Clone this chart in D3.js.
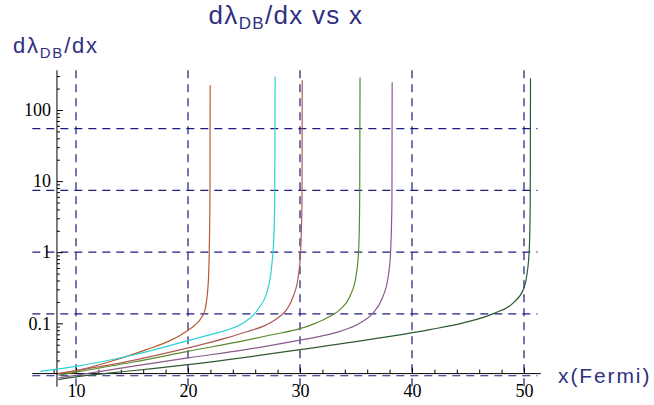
<!DOCTYPE html>
<html>
<head>
<meta charset="utf-8">
<script src="https://cdn.jsdelivr.net/npm/d3@7"></script>
<style>
  body { margin: 0; background: #fff; }
  .lab { font-family: "Liberation Sans", Arial, sans-serif; fill: #303080; }
  .tick text { font-family: "Liberation Serif", "Times New Roman", serif; font-size: 18px; fill: #000; }
</style>
</head>
<body>
<script>
// tick values and grid positions
var xTicks = [10, 20, 30, 40, 50];
var xMinor = [8, 12, 14, 16, 18, 22, 24, 26, 28, 32, 34, 36, 38, 42, 44, 46, 48];
var yTicks = [0.1, 1, 10, 100];
var yMinor = [0.02, 0.03, 0.04, 0.05, 0.06, 0.07, 0.08, 0.09,
              0.2, 0.3, 0.4, 0.5, 0.6, 0.7, 0.8, 0.9,
              2, 3, 4, 5, 6, 7, 8, 9,
              20, 30, 40, 50, 60, 70, 80, 90,
              200, 300];
var gridX = [10, 20, 30, 40, 50];
var gridY = [0.0183, 0.1353, 1, 7.389, 54.6];

// curves: [x, dλ/dx]
var curveOrange = [[8.42,0.0196],[10,0.0216],[13,0.0288],[16.3,0.0426],[18.39,0.057],[19.29,0.0675],
  [20,0.0797],[20.6,0.094],[21.07,0.112],[21.52,0.156],[21.81,0.371],[21.9,1.09],[21.96,5.52],[21.98,223]];
var curveCyan = [[6.8,0.0211],[10,0.0248],[15,0.0355],[20,0.0570],[22.26,0.071],[23.75,0.083],
  [24.94,0.1013],[25.96,0.137],[26.43,0.1735],[27.03,0.268],[27.47,0.635],[27.68,1.876],[27.74,5.53],[27.78,295]];
var curveRed = [[8.42,0.0196],[10,0.0216],[15,0.0299],[20,0.0450],[23.46,0.0623],[25.24,0.0760],
  [27.03,0.0959],[28.21,0.1255],[28.81,0.156],[29.4,0.240],[29.85,0.459],[30.06,1.09],[30.18,5.52],[30.2,262]];
var curveGreen = [[8.42,0.0187],[10,0.0206],[15,0.0283],[20,0.0403],[25.24,0.058],[27.5,0.069],
  [30,0.084],[31.19,0.0975],[32.68,0.1255],[33.57,0.156],[34.46,0.240],[35.0,0.459],[35.24,1.09],
  [35.33,5.52],[35.36,286]];
var curvePurple = [[8.42,0.0170],[10,0.0186],[15,0.0248],[20,0.0326],[25,0.0422],[30,0.058],
  [31.79,0.0656],[33.57,0.0771],[35.36,0.1013],[36.54,0.140],[37.29,0.216],[37.88,0.459],[38.1,1.09],
  [38.21,5.52],[38.23,245]];
var curveDark = [[8.42,0.0161],[10,0.0176],[15,0.0215],[20,0.0262],[30,0.0426],[37.14,0.0623],
  [41.61,0.0815],[44.58,0.1013],[47.26,0.137],[49.04,0.194],[49.94,0.298],[50.24,0.459],[50.47,1.09],
  [50.56,5.52],[50.58,279]];

var curves = [curveOrange, curveCyan, curveRed, curveGreen, curvePurple, curveDark];
var colors = ["#b85a30", "#2ad2da", "#b05a55", "#5a8a2e", "#8a5a8e", "#2e5a32"];

var w = 654, h = 405;
var svg = d3.select("body")
  .append("svg")
  .attr("width", w)
  .attr("height", h);

var x = d3.scaleLinear().domain([10, 50]).range([76, 524]);
var y = d3.scaleLog().domain([0.1, 100]).range([323.3, 110]);

// plot frame in data units
var xLo = 6.1, xHi = 51.2, yLo = 0.0128, yHi = 362;
var xAxisAt = 0.0196, yAxisAt = 8.3;

// dashed grid lines
svg.selectAll(".gx")
  .data(gridX)
  .enter()
  .append("line")
  .attr("class", "gx")
  .attr("x1", function(d){ return x(d); })
  .attr("x2", function(d){ return x(d); })
  .attr("y1", y(yHi))
  .attr("y2", y(yLo))
  .style("stroke", "#1c1c84")
  .style("stroke-width", 1.2)
  .style("stroke-dasharray", "8,6");

svg.selectAll(".gy")
  .data(gridY)
  .enter()
  .append("line")
  .attr("class", "gy")
  .attr("y1", function(d){ return y(d); })
  .attr("y2", function(d){ return y(d); })
  .attr("x1", x(xLo))
  .attr("x2", x(xHi))
  .style("stroke", "#1c1c84")
  .style("stroke-width", 1.2)
  .style("stroke-dasharray", "8,6");

// axes
var xAxis = d3.axisBottom(x)
  .tickValues(xTicks)
  .tickSizeInner(-6)
  .tickSizeOuter(0)
  .tickPadding(11)
  .tickFormat(d3.format("d"));
var xAxisMinor = d3.axisBottom(x)
  .tickValues(xMinor)
  .tickSizeInner(-4)
  .tickSizeOuter(0)
  .tickFormat("");
var yAxis = d3.axisLeft(y)
  .tickValues(yTicks)
  .tickSizeInner(-6)
  .tickSizeOuter(0)
  .tickPadding(6)
  .tickFormat(function(d){ return d < 1 ? d3.format(".1f")(d) : d3.format("d")(d); });
var yAxisMinor = d3.axisLeft(y)
  .tickValues(yMinor)
  .tickSizeInner(-3)
  .tickSizeOuter(0)
  .tickFormat("");

var gx = svg.append("g")
  .attr("transform", "translate(0," + y(xAxisAt) + ")");
gx.call(xAxis);
gx.append("g").call(xAxisMinor);
var gy = svg.append("g")
  .attr("transform", "translate(" + x(yAxisAt) + ",0)");
gy.call(yAxis);
gy.append("g").call(yAxisMinor);
svg.selectAll(".domain").remove();
svg.selectAll(".tick line").style("stroke", "#000");

// axis lines
svg.append("line")
  .attr("x1", x(xLo)).attr("x2", x(51.5))
  .attr("y1", y(xAxisAt)).attr("y2", y(xAxisAt))
  .style("stroke", "#000");
svg.append("line")
  .attr("x1", x(yAxisAt)).attr("x2", x(yAxisAt))
  .attr("y1", y(yHi)).attr("y2", y(yLo))
  .style("stroke", "#000");

// curves
var line = d3.line()
  .x(function(d){ return x(d[0]); })
  .y(function(d){ return y(d[1]); })
  .curve(d3.curveMonotoneX);

svg.selectAll(".curve")
  .data(curves)
  .enter()
  .append("path")
  .attr("class", "curve")
  .attr("d", line)
  .style("fill", "none")
  .style("stroke", function(d, i){ return colors[i]; })
  .style("stroke-width", 1.2);

// title and axis labels
var title = svg.append("text")
  .attr("class", "lab")
  .attr("x", 286)
  .attr("y", 24)
  .attr("text-anchor", "middle")
  .style("font-size", "26px")
  .style("letter-spacing", "0.05em");
title.append("tspan").text("d\u03bb");
title.append("tspan").attr("dy", 5).style("font-size", "17px").text("DB");
title.append("tspan").attr("dy", -5).text("/dx vs x");

var yLab = svg.append("text")
  .attr("class", "lab")
  .attr("x", 13)
  .attr("y", 53)
  .style("font-size", "22px")
  .style("letter-spacing", "0.08em");
yLab.append("tspan").text("d\u03bb");
yLab.append("tspan").attr("dy", 5).style("font-size", "15px").text("DB");
yLab.append("tspan").attr("dy", -5).text("/dx");

svg.append("text")
  .attr("class", "lab")
  .attr("x", 558)
  .attr("y", 383)
  .style("font-size", "21px")
  .style("letter-spacing", "0.09em")
  .text("x(Fermi)");
</script>
</body>
</html>
